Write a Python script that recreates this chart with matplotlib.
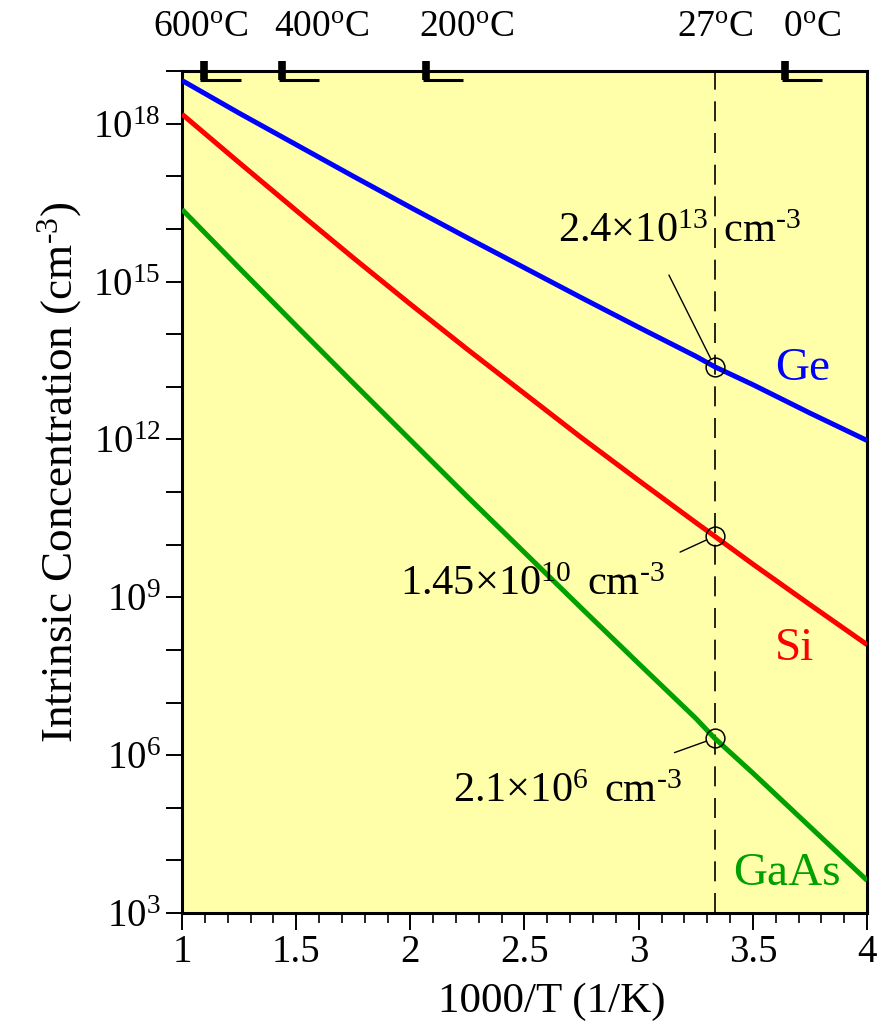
import numpy as np
import matplotlib
matplotlib.use("Agg")
import matplotlib.pyplot as plt
from matplotlib import transforms

plt.rcParams['font.family'] = ['Liberation Serif', 'DejaVu Serif']
plt.rcParams['mathtext.fontset'] = 'custom'
plt.rcParams['mathtext.rm'] = 'Liberation Serif'
plt.rcParams['mathtext.it'] = 'Liberation Serif:italic'
plt.rcParams['mathtext.bf'] = 'Liberation Serif:bold'

# ---------------- data ----------------
inv_T = [1.0, 1.25, 1.5, 1.75, 2.0, 2.25, 2.5, 2.75, 3.0, 3.25, 3.333, 3.5, 3.75, 4.0]  # 1000/T (1/K)
log_ni_Ge = [18.82, 18.20, 17.60, 17.00, 16.41, 15.83, 15.26, 14.69, 14.13, 13.58,
             13.38, 13.04, 12.50, 11.98]
log_ni_Si = [18.18, 17.26, 16.35, 15.45, 14.57, 13.71, 12.87, 12.03, 11.22, 10.42,
             10.16, 9.63, 8.86, 8.10]
log_ni_GaAs = [16.37, 15.26, 14.16, 13.07, 11.99, 10.91, 9.85, 8.79, 7.74, 6.70,
               6.32, 5.66, 4.64, 3.62]

materials = ['Ge', 'Si', 'GaAs']
colors = ['#0000FF', '#FF0000', '#00A000']
room_T_inv = 1000.0 / 300.0
room_values = [2.4e13, 1.45e10, 2.1e6]
room_labels = [r'2.4$\times$10$^{13}$$\,$ cm$^{\text{-3}}$',
               r'1.45$\times$10$^{10}$$\,$ cm$^{\text{-3}}$',
               r'2.1$\times$10$^{6}$$\,$ cm$^{\text{-3}}$']

temp_labels = [r'600$^{\rm o}$C', r'400$^{\rm o}$C', r'200$^{\rm o}$C',
               r'27$^{\rm o}$C', r'0$^{\rm o}$C']
temp_label_x = [1.083, 1.612, 2.248, 3.337, 3.758]
temp_marker_x = [1.097, 1.440, 2.070, 3.643]

x_ticks = [1, 1.5, 2, 2.5, 3, 3.5, 4]
y_decades = list(range(3, 20))

# ---------------- figure ----------------
fig = plt.figure(figsize=(8.96, 10.31), dpi=100)
ax = fig.add_axes([182/896, 1-913/1031, (867-182)/896, (913-71)/1031])
ax.set_facecolor('#FFFFAA')

series = [log_ni_Ge, log_ni_Si, log_ni_GaAs]
for vals, c in zip(series, colors):
    ax.plot(inv_T, 10.0**np.array(vals), color=c, lw=3.6, solid_capstyle='butt',
            solid_joinstyle='round', zorder=3)

ax.set_yscale('log')
ax.set_xlim(1, 4)
ax.set_ylim(1e3, 1e19)

# dashed room temperature line
ax.axvline(room_T_inv, color='black', lw=1.2, dashes=(12, 7), zorder=2)

# circles at 300 K
ax.plot([room_T_inv]*3, room_values, 'o', mfc='none', mec='black', ms=13.5, mew=1.1, zorder=4)

# leader lines and texts
leader_offsets = [(-33, 66), (-25, -11.5), (-29, -10.4)]
for v, off in zip(room_values, leader_offsets):
    ax.annotate('', xy=(room_T_inv, v), xytext=off, textcoords='offset points',
                arrowprops=dict(arrowstyle='-', color='black', lw=1.0,
                                shrinkA=0, shrinkB=6.5), zorder=4)

text_pos = [(2.647, 15.75), (1.955, 9.04), (2.187, 5.11)]
for (tx, ty), lab in zip(text_pos, room_labels):
    ax.text(tx, 10**ty, lab, fontsize=30.5, ha='left', va='baseline', zorder=5)

name_pos = [(3.597, 13.13), (3.597, 7.81), (3.413, 3.53)]
for (tx, ty), name, c in zip(name_pos, materials, colors):
    ax.text(tx, 10**ty, name, fontsize=34, color=c, ha='left', va='baseline', zorder=5)

# ticks
ax.set_xticks(x_ticks)
ax.set_xticklabels(['%g' % t for t in x_ticks])
ax.set_xticks(np.arange(1.0, 4.001, 0.1), minor=True)
ax.set_yticks([10.0**d for d in y_decades])
ax.set_yticklabels([r'$10^{%d}$' % d if (d % 3 == 0 and d < 19) else '' for d in y_decades])
ax.yaxis.set_minor_locator(matplotlib.ticker.NullLocator())
ax.tick_params(axis='both', which='major', direction='out', width=1.4, labelsize=28)
ax.tick_params(axis='x', which='major', length=12, pad=3)
ax.tick_params(axis='x', which='minor', direction='out', length=7, width=1.2)
ax.tick_params(axis='y', which='major', length=11.5, pad=4)
ax.tick_params(top=False, right=False)

for s in ax.spines.values():
    s.set_linewidth(2.2)
    s.set_color('black')

ax.set_xlabel('1000/T (1/K)', fontsize=31)
ax.xaxis.set_label_coords((552-182)/685, -(1012-913)/842, transform=ax.transAxes)
ax.xaxis.label.set_va('baseline')
ax.set_ylabel(r'Intrinsic Concentration (cm$^{\text{-3}}$)', fontsize=32.5)
ax.yaxis.set_label_coords(-(182-60)/685, (913-472)/842)
ax.yaxis.label.set_va('center')

# top temperature markers and labels
trans = transforms.blended_transform_factory(ax.transData, ax.transAxes)
for mx in temp_marker_x:
    ax.plot([mx, mx], [1.0119, 0.9893], color='black', lw=5.5, solid_capstyle='butt',
            transform=trans, clip_on=False, zorder=6)
    ax.plot([mx - 0.016, mx + 0.16], [0.9899, 0.9899], color='black', lw=2.2,
            solid_capstyle='butt', transform=trans, clip_on=False, zorder=6)
for lx, lab in zip(temp_label_x, temp_labels):
    ax.text(lx, (913-37)/842, lab, fontsize=27, ha='center', va='baseline',
            transform=trans, clip_on=False)

fig.savefig('out.png', dpi=100)
